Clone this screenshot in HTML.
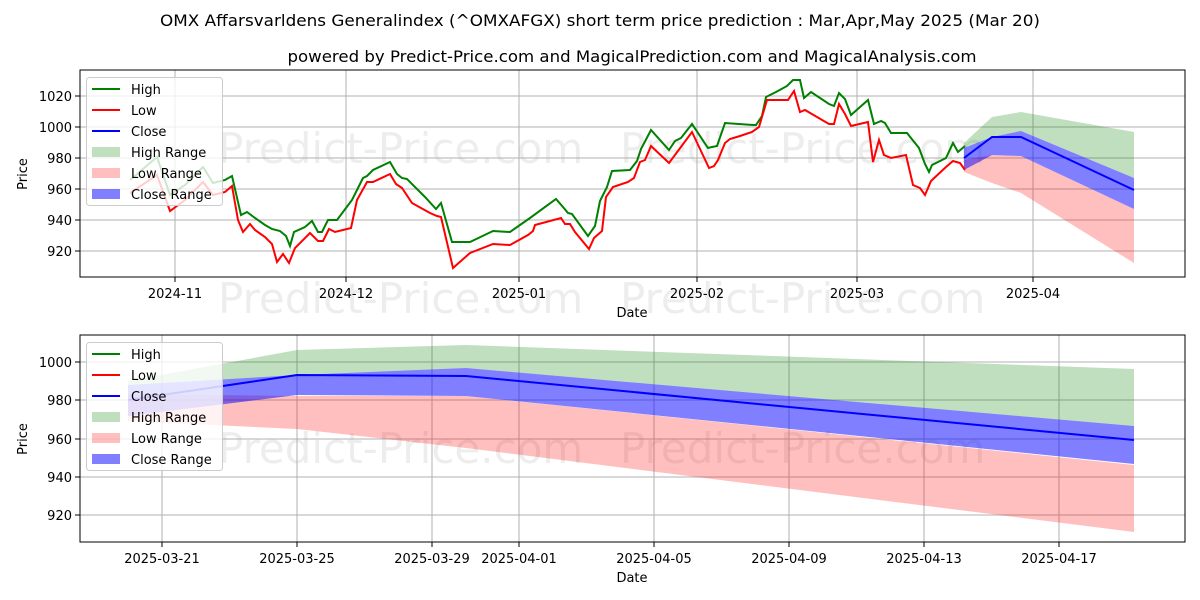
<!DOCTYPE html>
<html><head><meta charset="utf-8"><style>
html,body{margin:0;padding:0;background:#fff;}
svg{display:block;font-family:"DejaVu Sans","Liberation Sans",sans-serif;}
</style></head><body>
<svg width="1200" height="600" viewBox="0 0 1200 600" xmlns="http://www.w3.org/2000/svg">
<rect width="1200" height="600" fill="#fff"/>
<text x="600" y="26" font-size="16" text-anchor="middle" textLength="880" lengthAdjust="spacingAndGlyphs">OMX Affarsvarldens Generalindex (^OMXAFGX) short term price prediction : Mar,Apr,May 2025 (Mar 20)</text>
<text x="632" y="62" font-size="16" text-anchor="middle" textLength="689" lengthAdjust="spacingAndGlyphs">powered by Predict-Price.com and MagicalPrediction.com and MagicalAnalysis.com</text>

<!-- watermarks -->
<g fill="#000" fill-opacity="0.07" font-size="42">
<text x="218" y="163">Predict-Price.com</text>
<text x="620" y="163">Predict-Price.com</text>
<text x="218" y="313">Predict-Price.com</text>
<text x="620" y="313">Predict-Price.com</text>
<text x="218" y="463">Predict-Price.com</text>
<text x="620" y="463">Predict-Price.com</text>
</g>

<!-- TOP CHART -->
<g stroke="#b0b0b0" stroke-width="1">
<line x1="80" x2="1185" y1="96" y2="96"/><line x1="80" x2="1185" y1="127" y2="127"/><line x1="80" x2="1185" y1="158" y2="158"/><line x1="80" x2="1185" y1="189" y2="189"/><line x1="80" x2="1185" y1="220" y2="220"/><line x1="80" x2="1185" y1="251" y2="251"/>
<line x1="175" x2="175" y1="70" y2="277"/><line x1="346" x2="346" y1="70" y2="277"/><line x1="519" x2="519" y1="70" y2="277"/><line x1="697" x2="697" y1="70" y2="277"/><line x1="857" x2="857" y1="70" y2="277"/><line x1="1033" x2="1033" y1="70" y2="277"/>
</g>
<polygon fill="green" fill-opacity="0.25" points="964,143 992,117 1021,112 1134,132 1134,178 1021,131 992,137 964,148"/>
<polygon fill="red" fill-opacity="0.25" points="964,160 992,155 1021,156 1134,209 1134,263 1021,193 992,183 964,172"/>
<polygon fill="blue" fill-opacity="0.5" points="964,148 992,137 1021,131 1134,178 1134,209 1021,156 992,155 964,170"/>
<polyline fill="none" stroke="green" stroke-width="2" points="130,180 157,157 170,195 185,185 203,167 213,183 225,180 232,176 241,215 247,212 255,218 265,225 272,229 280,231 286,236 290,246 294,232 305,227 312,221 318,232 322,232 328,220 337,220 352,200 363,178 367,176 373,170 390,162 397,174 402,178 407,179 425,197 436,209 441,203 452,242 470,242 493,231 510,232 530,218 556,199 563,207 568,213 572,214 588,236 595,226 600,201 607,187 612,171 630,170 637,161 641,149 651,130 669,150 675,141 681,138 692,124 708,148 712,147 717,146 725,123 753,125 756,125 762,116 766,97 776,92 787,86 793,80 800,80 804,98 811,92 829,104 834,106 839,93 845,99 851,115 868,100 874,124 881,121 885,123 891,133 907,133 919,148 925,164 929,172 932,165 946,158 953,143 958,152 965,146"/>
<polyline fill="none" stroke="red" stroke-width="2" points="130,193 157,175 170,211 185,200 203,182 213,195 225,192 232,186 238,220 243,232 250,224 255,230 265,237 272,244 277,262 283,254 289,263 295,248 310,233 318,241 323,241 329,229 335,232 351,228 357,200 367,182 373,182 390,174 396,184 402,188 412,203 430,213 437,216 441,217 453,268 470,253 493,244 510,245 528,235 533,231 535,225 561,218 565,224 570,224 575,232 589,249 594,238 602,231 606,197 613,187 628,182 634,178 640,162 645,160 651,146 669,163 692,132 709,168 714,166 718,160 725,143 730,139 740,136 752,132 759,127 767,100 788,100 794,91 800,112 805,110 829,124 834,124 839,104 845,114 851,126 868,122 873,162 879,140 884,155 891,158 906,155 913,185 920,188 925,195 931,181 946,167 953,161 960,163 965,170"/>
<polyline fill="none" stroke="blue" stroke-width="2" points="964,158 992,137 1021,137 1134,190"/>
<rect x="80" y="70" width="1105" height="207" fill="none" stroke="#000" stroke-width="1"/>
<g stroke="#000"><line x1="75" x2="80" y1="96" y2="96"/><line x1="75" x2="80" y1="127" y2="127"/><line x1="75" x2="80" y1="158" y2="158"/><line x1="75" x2="80" y1="189" y2="189"/><line x1="75" x2="80" y1="220" y2="220"/><line x1="75" x2="80" y1="251" y2="251"/>
<line x1="175" x2="175" y1="277" y2="282"/><line x1="346" x2="346" y1="277" y2="282"/><line x1="519" x2="519" y1="277" y2="282"/><line x1="697" x2="697" y1="277" y2="282"/><line x1="857" x2="857" y1="277" y2="282"/><line x1="1033" x2="1033" y1="277" y2="282"/></g>
<g font-size="13" text-anchor="end"><text x="72" y="101">1020</text><text x="72" y="132">1000</text><text x="72" y="163">980</text><text x="72" y="194">960</text><text x="72" y="225">940</text><text x="72" y="256">920</text></g>
<g font-size="13" text-anchor="middle"><text x="175" y="298">2024-11</text><text x="346" y="298">2024-12</text><text x="519" y="298">2025-01</text><text x="697" y="298">2025-02</text><text x="857" y="298">2025-03</text><text x="1033" y="298">2025-04</text><text x="632" y="317">Date</text></g>
<text font-size="13" transform="translate(27,174) rotate(-90)" text-anchor="middle">Price</text>
<!-- legend top -->
<rect x="86.5" y="77.5" width="136" height="128" rx="3" fill="#fff" fill-opacity="0.8" stroke="#ccc"/>
<g font-size="13">
<line x1="92" x2="120" y1="89" y2="89" stroke="green" stroke-width="2"/><text x="131" y="94">High</text>
<line x1="92" x2="120" y1="110" y2="110" stroke="red" stroke-width="2"/><text x="131" y="115">Low</text>
<line x1="92" x2="120" y1="131" y2="131" stroke="blue" stroke-width="2"/><text x="131" y="136">Close</text>
<rect x="92" y="147" width="28" height="10" fill="green" fill-opacity="0.25"/><text x="131" y="157">High Range</text>
<rect x="92" y="168" width="28" height="10" fill="red" fill-opacity="0.25"/><text x="131" y="178">Low Range</text>
<rect x="92" y="189" width="28" height="10" fill="blue" fill-opacity="0.5"/><text x="131" y="199">Close Range</text>
</g>

<!-- BOTTOM CHART -->
<g stroke="#b0b0b0" stroke-width="1">
<line x1="80" x2="1185" y1="362" y2="362"/><line x1="80" x2="1185" y1="400" y2="400"/><line x1="80" x2="1185" y1="439" y2="439"/><line x1="80" x2="1185" y1="477" y2="477"/><line x1="80" x2="1185" y1="515" y2="515"/>
<line x1="162" x2="162" y1="335" y2="542"/><line x1="297" x2="297" y1="335" y2="542"/><line x1="432" x2="432" y1="335" y2="542"/><line x1="519" x2="519" y1="335" y2="542"/><line x1="654" x2="654" y1="335" y2="542"/><line x1="789" x2="789" y1="335" y2="542"/><line x1="924" x2="924" y1="335" y2="542"/><line x1="1059" x2="1059" y1="335" y2="542"/>
</g>
<polygon fill="green" fill-opacity="0.25" points="128,381 297,350 466,345 1134,369 1134,426 466,368 297,375 128,385"/>
<polygon fill="red" fill-opacity="0.25" points="128,394 297,396 466,396 1134,465 1134,532 466,448 297,429 128,421"/>
<polygon fill="blue" fill-opacity="0.5" points="128,385 297,375 466,368 1134,426 1134,464 466,396 297,395 128,416"/>
<polyline fill="none" stroke="blue" stroke-width="2" points="128,400 297,375 466,376 1134,440"/>
<rect x="80" y="335" width="1105" height="207" fill="none" stroke="#000" stroke-width="1"/>
<g stroke="#000"><line x1="75" x2="80" y1="362" y2="362"/><line x1="75" x2="80" y1="400" y2="400"/><line x1="75" x2="80" y1="439" y2="439"/><line x1="75" x2="80" y1="477" y2="477"/><line x1="75" x2="80" y1="515" y2="515"/>
<line x1="162" x2="162" y1="542" y2="547"/><line x1="297" x2="297" y1="542" y2="547"/><line x1="432" x2="432" y1="542" y2="547"/><line x1="519" x2="519" y1="542" y2="547"/><line x1="654" x2="654" y1="542" y2="547"/><line x1="789" x2="789" y1="542" y2="547"/><line x1="924" x2="924" y1="542" y2="547"/><line x1="1059" x2="1059" y1="542" y2="547"/></g>
<g font-size="13" text-anchor="end"><text x="72" y="367">1000</text><text x="72" y="405">980</text><text x="72" y="444">960</text><text x="72" y="482">940</text><text x="72" y="520">920</text></g>
<g font-size="13" text-anchor="middle"><text x="162" y="563">2025-03-21</text><text x="297" y="563">2025-03-25</text><text x="432" y="563">2025-03-29</text><text x="519" y="563">2025-04-01</text><text x="654" y="563">2025-04-05</text><text x="789" y="563">2025-04-09</text><text x="924" y="563">2025-04-13</text><text x="1059" y="563">2025-04-17</text><text x="632" y="582">Date</text></g>
<text font-size="13" transform="translate(27,439) rotate(-90)" text-anchor="middle">Price</text>
<rect x="86.5" y="342.5" width="136" height="128" rx="3" fill="#fff" fill-opacity="0.8" stroke="#ccc"/>
<g font-size="13">
<line x1="92" x2="120" y1="354" y2="354" stroke="green" stroke-width="2"/><text x="131" y="359">High</text>
<line x1="92" x2="120" y1="375" y2="375" stroke="red" stroke-width="2"/><text x="131" y="380">Low</text>
<line x1="92" x2="120" y1="396" y2="396" stroke="blue" stroke-width="2"/><text x="131" y="401">Close</text>
<rect x="92" y="412" width="28" height="10" fill="green" fill-opacity="0.25"/><text x="131" y="422">High Range</text>
<rect x="92" y="433" width="28" height="10" fill="red" fill-opacity="0.25"/><text x="131" y="443">Low Range</text>
<rect x="92" y="454" width="28" height="10" fill="blue" fill-opacity="0.5"/><text x="131" y="464">Close Range</text>
</g>
</svg>
</body></html>
